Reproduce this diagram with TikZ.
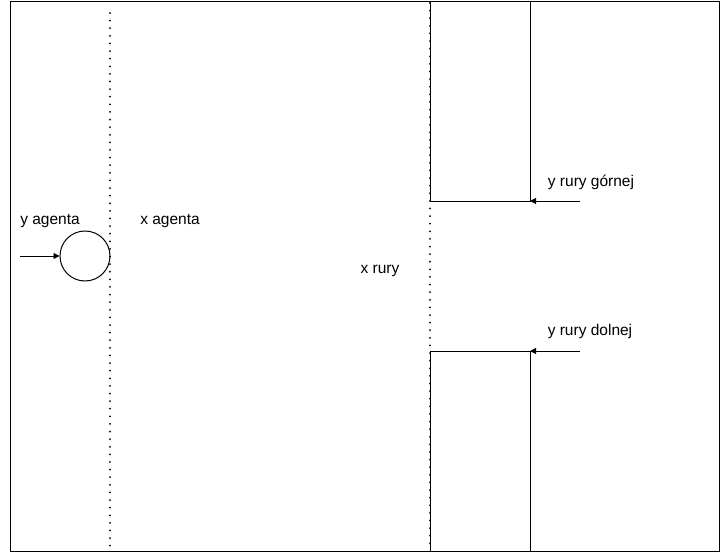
\documentclass[tikz,border=0pt]{standalone}
\usepackage{fontspec}
\setmainfont{Liberation Sans}
\usetikzlibrary{arrows.meta}
\begin{document}
\begin{tikzpicture}[x=1pt,y=-1pt,
  frame/.style={draw=black,line width=1pt},
  dotline/.style={draw=black,line width=2pt,dash pattern=on 0.01pt off 7.6pt,line cap=round},
  pipe/.style={draw=black,line width=1pt},
  arr/.style={draw=black,line width=0.9pt,-{Triangle[length=6pt,width=6pt]}},
  lbl/.style={font=\fontsize{15.5}{18}\selectfont,inner sep=0pt,anchor=center}]
\useasboundingbox (0,0) rectangle (721,554);
\draw[frame] (10,1) rectangle (719,551);
% dotted lines
\coordinate (d1t) at (110,13);
\coordinate (d1b) at (110,550);
\draw[dotline] (d1t) -- (d1b);
\coordinate (d2t) at (430,3);
\coordinate (d2b) at (430,548);
\draw[dotline] (d2t) -- (d2b);
% pipes
\draw[pipe] (430,1) -- (430,201) -- (530,201) -- (530,1);
\draw[pipe] (430,551) -- (430,351) -- (530,351) -- (530,551);
\coordinate (pu) at (530,201);
\coordinate (pl) at (530,351);
% agent
\node[draw=black,line width=1pt,circle,minimum size=50pt,inner sep=0pt] (agent) at (85,256) {};
\coordinate (as) at (20,256);
\draw[arr] (as) -- (agent.west);
\coordinate (us) at (580,201);
\coordinate (ls) at (580,351);
\draw[arr] (us) -- (pu);
\draw[arr] (ls) -- (pl);
% labels
\node[lbl] (ya) at (50,221) {y agenta};
\node[lbl] (xa) at (170,221) {x agenta};
\node[lbl] (xr) at (380,271) {x rury};
\node[lbl] (yg) at (591,182) {y rury górnej};
\node[lbl] (yd) at (590,331) {y rury dolnej};
\end{tikzpicture}
\end{document}
